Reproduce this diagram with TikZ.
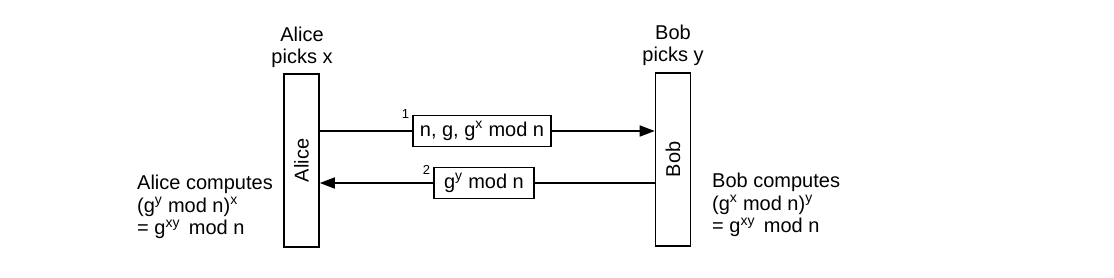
\documentclass[tikz,border=0pt]{standalone}
\usepackage{fontspec}
\setmainfont{Liberation Sans}
\usetikzlibrary{arrows.meta,calc,positioning}
\tikzset{
    party/.style={draw=black,line width=1.6pt,minimum width=35pt,minimum height=173pt,inner sep=0pt},
    msgbox/.style={draw=black,line width=1.6pt,minimum height=31pt,inner xsep=6pt,inner sep=0pt},
    msgline/.style={line width=1.6pt,draw=black},
    stepno/.style={anchor=east,inner sep=1pt,font=\fontsize{13}{15}\selectfont},
    note/.style={align=left,inner sep=0pt},
    every node/.style={font=\fontsize{20}{22.5}\selectfont}
}

\begin{document}
\begin{tikzpicture}[x=1pt,y=-1pt]
  \useasboundingbox (0,0) rectangle (1114,277);
  \node[party] (alice) at (301.5,160.5) {};
  \node[party] (bob) at (673,159.5) {};
  \node[rotate=90] at (alice.center) {Alice};
  \node[rotate=90] at (bob.center) {Bob};
  \node[align=center,anchor=south,inner sep=0pt] (alicepick) at (302,68) {Alice\\picks x};
  \node[align=center,anchor=south,inner sep=0pt] (bobpick) at (673,66) {Bob\\picks y};
  \node[msgbox,minimum width=138pt] (m1) at (482,131) {n, g, g\textsuperscript{x} mod n};
  \node[msgbox,minimum width=100pt] (m2) at (484,183) {g\textsuperscript{y} mod n};
  \node[stepno] at ($(m1.north west)+(-2,-1)$) {1};
  \node[stepno] at ($(m2.north west)+(-2,3)$) {2};
  \draw[msgline] (alice.east |- m1) -- (m1.west);
  \draw[msgline,-{Triangle[length=15pt,width=11pt]}] (m1.east) -- (bob.west |- m1);
  \draw[msgline] (bob.west |- m2) -- (m2.east);
  \draw[msgline,-{Triangle[length=15pt,width=11pt]}] (m2.west) -- (alice.east |- m2);
  \node[note,anchor=north west] (alicecomp) at (137,175) {Alice computes\\(g\textsuperscript{y} mod n)\textsuperscript{x}\\= g\textsuperscript{xy}\, mod n};
  \node[note,anchor=north west] (bobcomp) at (712,173) {Bob computes\\(g\textsuperscript{x} mod n)\textsuperscript{y}\\= g\textsuperscript{xy}\, mod n};
\end{tikzpicture}
\end{document}
